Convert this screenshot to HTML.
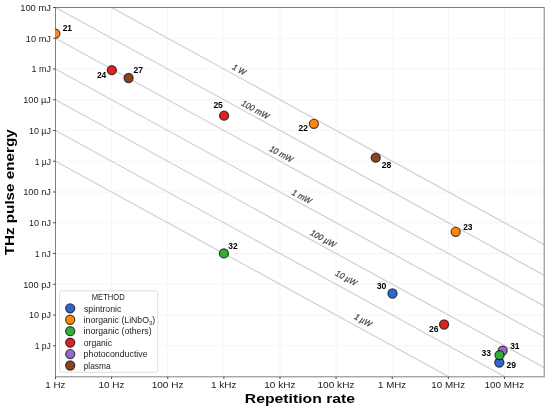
<!DOCTYPE html><html><head><meta charset="utf-8"><style>html,body{margin:0;padding:0;background:#fff;width:550px;height:409px;overflow:hidden}svg{display:block;will-change:transform;filter:blur(0.3px)}text{font-family:"Liberation Sans",sans-serif}</style></head><body>
<svg width="550" height="409" viewBox="0 0 550 409">
<rect width="550" height="409" fill="#fff"/>
<defs><clipPath id="c"><rect x="55.5" y="7.5" width="488.70" height="369.30"/></clipPath></defs>
<path d="M111.62 7.5V376.8M167.74 7.5V376.8M223.86 7.5V376.8M279.98 7.5V376.8M336.10 7.5V376.8M392.22 7.5V376.8M448.34 7.5V376.8M504.46 7.5V376.8M55.5 38.25H544.2M55.5 69.00H544.2M55.5 99.75H544.2M55.5 130.50H544.2M55.5 161.25H544.2M55.5 192.00H544.2M55.5 222.75H544.2M55.5 253.50H544.2M55.5 284.25H544.2M55.5 315.00H544.2M55.5 345.75H544.2" stroke="#f5f5f5" stroke-width="1" fill="none"/>
<g clip-path="url(#c)"><path d="M55.50 -23.25L588.64 268.88M55.50 7.50L588.64 299.62M55.50 38.25L588.64 330.38M55.50 69.00L588.64 361.12M55.50 99.75L588.64 391.88M55.50 130.50L588.64 422.62M55.50 161.25L588.64 453.38" stroke="#d2d2d2" stroke-width="1.25" fill="none"/></g>
<g transform="translate(231.93 68.94) rotate(28.72)"><text x="-0.20" y="0.00" font-size="8.51" font-style="italic" fill="#4a4a4a" textLength="13.65" lengthAdjust="spacingAndGlyphs" stroke="#4a4a4a" stroke-width="0.28">1 W</text></g>
<g transform="translate(240.99 105.10) rotate(28.72)"><text x="-0.21" y="0.00" font-size="8.51" font-style="italic" fill="#4a4a4a" textLength="30.03" lengthAdjust="spacingAndGlyphs" stroke="#4a4a4a" stroke-width="0.28">100 mW</text></g>
<g transform="translate(268.88 150.57) rotate(28.72)"><text x="-0.21" y="0.00" font-size="8.51" font-style="italic" fill="#4a4a4a" textLength="25.39" lengthAdjust="spacingAndGlyphs" stroke="#4a4a4a" stroke-width="0.28">10 mW</text></g>
<g transform="translate(291.51 194.33) rotate(28.72)"><text x="-0.21" y="0.00" font-size="8.51" font-style="italic" fill="#4a4a4a" textLength="20.75" lengthAdjust="spacingAndGlyphs" stroke="#4a4a4a" stroke-width="0.28">1 mW</text></g>
<g transform="translate(309.87 234.69) rotate(28.72)"><text x="-0.21" y="0.00" font-size="8.51" font-style="italic" fill="#4a4a4a" textLength="27.57" lengthAdjust="spacingAndGlyphs" stroke="#4a4a4a" stroke-width="0.28">100 µW</text></g>
<g transform="translate(335.01 275.16) rotate(28.72)"><text x="-0.20" y="0.00" font-size="8.51" font-style="italic" fill="#4a4a4a" textLength="22.93" lengthAdjust="spacingAndGlyphs" stroke="#4a4a4a" stroke-width="0.28">10 µW</text></g>
<g transform="translate(353.84 318.48) rotate(28.72)"><text x="-0.20" y="0.00" font-size="8.51" font-style="italic" fill="#4a4a4a" textLength="18.29" lengthAdjust="spacingAndGlyphs" stroke="#4a4a4a" stroke-width="0.28">1 µW</text></g>
<rect x="55.5" y="7.5" width="488.70" height="369.30" fill="none" stroke="#808080" stroke-width="1"/>
<path d="M55.50 376.8v2.2M111.62 376.8v2.2M167.74 376.8v2.2M223.86 376.8v2.2M279.98 376.8v2.2M336.10 376.8v2.2M392.22 376.8v2.2M448.34 376.8v2.2M504.46 376.8v2.2M55.5 7.50h-2.4M55.5 38.25h-2.4M55.5 69.00h-2.4M55.5 99.75h-2.4M55.5 130.50h-2.4M55.5 161.25h-2.4M55.5 192.00h-2.4M55.5 222.75h-2.4M55.5 253.50h-2.4M55.5 284.25h-2.4M55.5 315.00h-2.4M55.5 345.75h-2.4" stroke="#4a4a4a" stroke-width="1" fill="none"/>
<text x="45.30" y="387.60" font-size="9.35" fill="#222" textLength="20.15" lengthAdjust="spacingAndGlyphs">1 Hz</text>
<text x="98.51" y="387.60" font-size="9.35" fill="#222" textLength="25.95" lengthAdjust="spacingAndGlyphs">10 Hz</text>
<text x="151.73" y="387.60" font-size="9.35" fill="#222" textLength="31.75" lengthAdjust="spacingAndGlyphs">100 Hz</text>
<text x="211.01" y="387.60" font-size="9.35" fill="#222" textLength="25.43" lengthAdjust="spacingAndGlyphs">1 kHz</text>
<text x="264.23" y="387.60" font-size="9.35" fill="#222" textLength="31.23" lengthAdjust="spacingAndGlyphs">10 kHz</text>
<text x="317.45" y="387.60" font-size="9.35" fill="#222" textLength="37.03" lengthAdjust="spacingAndGlyphs">100 kHz</text>
<text x="378.10" y="387.60" font-size="9.35" fill="#222" textLength="27.98" lengthAdjust="spacingAndGlyphs">1 MHz</text>
<text x="431.32" y="387.60" font-size="9.35" fill="#222" textLength="33.79" lengthAdjust="spacingAndGlyphs">10 MHz</text>
<text x="484.54" y="387.60" font-size="9.35" fill="#222" textLength="39.59" lengthAdjust="spacingAndGlyphs">100 MHz</text>
<text x="20.16" y="10.80" font-size="9.35" fill="#222" textLength="30.84" lengthAdjust="spacingAndGlyphs">100 mJ</text>
<text x="25.87" y="41.55" font-size="9.35" fill="#222" textLength="25.12" lengthAdjust="spacingAndGlyphs">10 mJ</text>
<text x="31.58" y="72.30" font-size="9.35" fill="#222" textLength="19.38" lengthAdjust="spacingAndGlyphs">1 mJ</text>
<text x="23.20" y="103.05" font-size="9.35" fill="#222" textLength="27.78" lengthAdjust="spacingAndGlyphs">100 µJ</text>
<text x="28.91" y="133.80" font-size="9.35" fill="#222" textLength="22.05" lengthAdjust="spacingAndGlyphs">10 µJ</text>
<text x="34.64" y="164.55" font-size="9.35" fill="#222" textLength="16.29" lengthAdjust="spacingAndGlyphs">1 µJ</text>
<text x="23.22" y="195.30" font-size="9.35" fill="#222" textLength="27.77" lengthAdjust="spacingAndGlyphs">100 nJ</text>
<text x="28.93" y="226.05" font-size="9.35" fill="#222" textLength="22.04" lengthAdjust="spacingAndGlyphs">10 nJ</text>
<text x="34.65" y="256.80" font-size="9.35" fill="#222" textLength="16.29" lengthAdjust="spacingAndGlyphs">1 nJ</text>
<text x="23.21" y="287.55" font-size="9.35" fill="#222" textLength="27.78" lengthAdjust="spacingAndGlyphs">100 pJ</text>
<text x="28.92" y="318.30" font-size="9.35" fill="#222" textLength="22.05" lengthAdjust="spacingAndGlyphs">10 pJ</text>
<text x="34.65" y="349.05" font-size="9.35" fill="#222" textLength="16.29" lengthAdjust="spacingAndGlyphs">1 pJ</text>
<text x="244.87" y="402.70" font-size="13.67" font-weight="bold" fill="#000" textLength="110.14" lengthAdjust="spacingAndGlyphs">Repetition rate</text>
<g transform="translate(14.1 192.3) rotate(-90)"><text x="-63.04" y="0.00" font-size="13.67" font-weight="bold" fill="#000" textLength="126.00" lengthAdjust="spacingAndGlyphs">THz pulse energy</text></g>
<g clip-path="url(#c)">
<circle cx="55.4" cy="33.6" r="4.55" fill="#fb8a0c" stroke="#000" stroke-opacity="0.7" stroke-width="1.2"/>
<circle cx="313.9" cy="123.8" r="4.55" fill="#fb8a0c" stroke="#000" stroke-opacity="0.7" stroke-width="1.2"/>
<circle cx="455.7" cy="231.8" r="4.55" fill="#fb8a0c" stroke="#000" stroke-opacity="0.7" stroke-width="1.2"/>
<circle cx="111.85" cy="70.2" r="4.55" fill="#dc2222" stroke="#000" stroke-opacity="0.7" stroke-width="1.2"/>
<circle cx="224.1" cy="115.7" r="4.55" fill="#dc2222" stroke="#000" stroke-opacity="0.7" stroke-width="1.2"/>
<circle cx="444.1" cy="324.5" r="4.55" fill="#dc2222" stroke="#000" stroke-opacity="0.7" stroke-width="1.2"/>
<circle cx="128.6" cy="78.0" r="4.55" fill="#8b4220" stroke="#000" stroke-opacity="0.7" stroke-width="1.2"/>
<circle cx="375.7" cy="157.7" r="4.55" fill="#8b4220" stroke="#000" stroke-opacity="0.7" stroke-width="1.2"/>
<circle cx="499.3" cy="362.5" r="4.55" fill="#2e66d6" stroke="#000" stroke-opacity="0.7" stroke-width="1.2"/>
<circle cx="392.5" cy="293.5" r="4.55" fill="#2e66d6" stroke="#000" stroke-opacity="0.7" stroke-width="1.2"/>
<circle cx="502.7" cy="350.6" r="4.55" fill="#9a68cc" stroke="#000" stroke-opacity="0.7" stroke-width="1.2"/>
<circle cx="223.9" cy="253.4" r="4.55" fill="#33ad33" stroke="#000" stroke-opacity="0.7" stroke-width="1.2"/>
<circle cx="499.5" cy="355.1" r="4.55" fill="#33ad33" stroke="#000" stroke-opacity="0.7" stroke-width="1.2"/>
</g>
<text x="62.66" y="30.93" font-size="8.40" font-weight="bold" fill="#000" textLength="9.42" lengthAdjust="spacingAndGlyphs">21</text>
<text x="298.63" y="130.73" font-size="8.40" font-weight="bold" fill="#000" textLength="9.39" lengthAdjust="spacingAndGlyphs">22</text>
<text x="463.15" y="229.68" font-size="8.40" font-weight="bold" fill="#000" textLength="9.41" lengthAdjust="spacingAndGlyphs">23</text>
<text x="96.93" y="77.53" font-size="8.40" font-weight="bold" fill="#000" textLength="9.39" lengthAdjust="spacingAndGlyphs">24</text>
<text x="213.41" y="107.88" font-size="8.40" font-weight="bold" fill="#000" textLength="9.41" lengthAdjust="spacingAndGlyphs">25</text>
<text x="429.05" y="331.98" font-size="8.40" font-weight="bold" fill="#000" textLength="9.61" lengthAdjust="spacingAndGlyphs">26</text>
<text x="133.60" y="72.73" font-size="8.40" font-weight="bold" fill="#000" textLength="9.49" lengthAdjust="spacingAndGlyphs">27</text>
<text x="381.83" y="167.68" font-size="8.40" font-weight="bold" fill="#000" textLength="9.50" lengthAdjust="spacingAndGlyphs">28</text>
<text x="506.59" y="367.98" font-size="8.40" font-weight="bold" fill="#000" textLength="9.54" lengthAdjust="spacingAndGlyphs">29</text>
<text x="376.74" y="288.53" font-size="8.40" font-weight="bold" fill="#000" textLength="9.69" lengthAdjust="spacingAndGlyphs">30</text>
<text x="510.17" y="348.63" font-size="8.40" font-weight="bold" fill="#000" textLength="9.41" lengthAdjust="spacingAndGlyphs">31</text>
<text x="228.28" y="248.63" font-size="8.40" font-weight="bold" fill="#000" textLength="9.38" lengthAdjust="spacingAndGlyphs">32</text>
<text x="481.45" y="355.88" font-size="8.40" font-weight="bold" fill="#000" textLength="9.40" lengthAdjust="spacingAndGlyphs">33</text>
<rect x="59.6" y="290.8" width="98.1" height="81.5" rx="2.2" fill="#fff" fill-opacity="0.85" stroke="#d4d4d4" stroke-width="0.8"/>
<text x="91.81" y="300.10" font-size="8.27" fill="#222" textLength="32.92" lengthAdjust="spacingAndGlyphs">METHOD</text>
<circle cx="70.2" cy="308.3" r="4.55" fill="#2e66d6" stroke="#000" stroke-opacity="0.7" stroke-width="1.2"/>
<text x="83.96" y="311.60" font-size="8.43" fill="#222" textLength="37.41" lengthAdjust="spacingAndGlyphs">spintronic</text>
<circle cx="70.2" cy="319.74" r="4.55" fill="#fb8a0c" stroke="#000" stroke-opacity="0.7" stroke-width="1.2"/>
<text x="83.63" y="323.04" font-size="8.43" fill="#222" textLength="71.50" lengthAdjust="spacingAndGlyphs">inorganic (LiNbO<tspan font-size="5.6" dy="1.6">3</tspan><tspan dy="-1.6">)</tspan></text>
<circle cx="70.2" cy="331.18" r="4.55" fill="#33ad33" stroke="#000" stroke-opacity="0.7" stroke-width="1.2"/>
<text x="83.62" y="334.48" font-size="8.43" fill="#222" textLength="68.04" lengthAdjust="spacingAndGlyphs">inorganic (others)</text>
<circle cx="70.2" cy="342.62" r="4.55" fill="#dc2222" stroke="#000" stroke-opacity="0.7" stroke-width="1.2"/>
<text x="83.84" y="345.92" font-size="8.43" fill="#222" textLength="28.24" lengthAdjust="spacingAndGlyphs">organic</text>
<circle cx="70.2" cy="354.06" r="4.55" fill="#9a68cc" stroke="#000" stroke-opacity="0.7" stroke-width="1.2"/>
<text x="83.63" y="357.36" font-size="8.43" fill="#222" textLength="63.92" lengthAdjust="spacingAndGlyphs">photoconductive</text>
<circle cx="70.2" cy="365.5" r="4.55" fill="#8b4220" stroke="#000" stroke-opacity="0.7" stroke-width="1.2"/>
<text x="83.66" y="368.80" font-size="8.43" fill="#222" textLength="26.94" lengthAdjust="spacingAndGlyphs">plasma</text>
</svg></body></html>
